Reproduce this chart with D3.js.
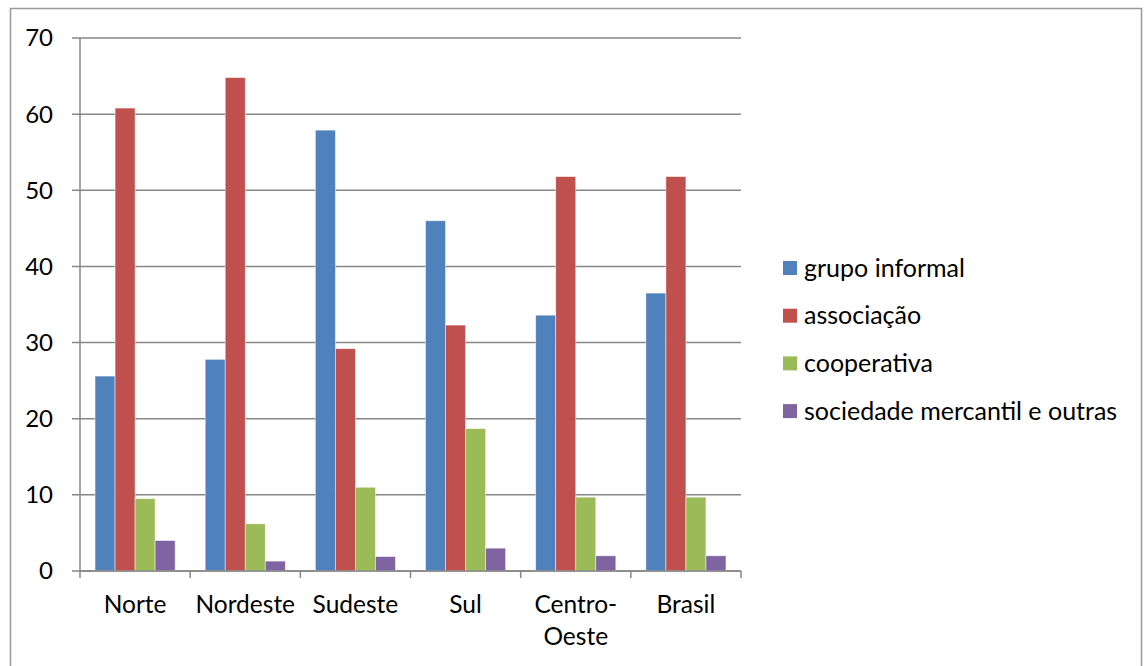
<!DOCTYPE html>
<html>
<head>
<meta charset="utf-8">
<script src="https://cdn.jsdelivr.net/npm/d3@7"></script>
<style>
  body { margin: 0; background: #fff; }
  text { font-family: Lato, "Open Sans", sans-serif; fill: #000; }
</style>
</head>
<body>
<div id="chart"></div>
<script>
// Data
const regions = ["Norte", "Nordeste", "Sudeste", "Sul", "Centro-Oeste", "Brasil"];
const regionLines = [["Norte"], ["Nordeste"], ["Sudeste"], ["Sul"], ["Centro-", "Oeste"], ["Brasil"]];
const seriesNames = ["grupo informal", "associação", "cooperativa", "sociedade mercantil e outras"];
const grupoInformal = [25.6, 27.8, 57.9, 46.0, 33.6, 36.5];
const associacao = [60.8, 64.8, 29.2, 32.3, 51.8, 51.8];
const cooperativa = [9.5, 6.2, 11.0, 18.7, 9.7, 9.7];
const sociedade = [4.0, 1.3, 1.9, 3.0, 2.0, 2.0];
const yTicks = [0, 10, 20, 30, 40, 50, 60, 70];
const colors = ["#4F81BD", "#C0504D", "#9BBB59", "#8064A2"];

const seriesValues = [grupoInformal, associacao, cooperativa, sociedade];

const width = 1146, height = 666;
const plot = { left: 80, right: 741, top: 38, bottom: 571 };

const svg = d3.select("#chart").append("svg")
  .attr("width", width)
  .attr("height", height);

// outer chart frame
svg.append("rect")
  .attr("x", 10.5).attr("y", 8.5)
  .attr("width", 1131).attr("height", 670)
  .attr("fill", "none")
  .attr("stroke", "#9a9a9a")
  .attr("stroke-width", 1.5);

const x = d3.scaleBand().domain(regions).range([plot.left, plot.right]).paddingInner(0).paddingOuter(0);
const xInner = d3.scaleBand().domain(seriesNames).range([0, x.bandwidth()]).paddingInner(0).paddingOuter(0.75);
const y = d3.scaleLinear().domain([0, 70]).range([plot.bottom, plot.top]);

// gridlines
svg.append("g")
  .selectAll("line")
  .data(yTicks)
  .join("line")
  .attr("x1", plot.left - 8)
  .attr("x2", plot.right)
  .attr("y1", d => y(d))
  .attr("y2", d => y(d))
  .attr("stroke", "#878787")
  .attr("stroke-width", 1.5);

// y axis line
svg.append("line")
  .attr("x1", plot.left).attr("x2", plot.left)
  .attr("y1", plot.top).attr("y2", plot.bottom + 1)
  .attr("stroke", "#878787").attr("stroke-width", 1.5);

// y tick labels
svg.append("g")
  .selectAll("text")
  .data(yTicks)
  .join("text")
  .attr("x", 53)
  .attr("y", d => y(d))
  .attr("dy", "0.35em")
  .attr("text-anchor", "end")
  .style("font-size", "24px")
  .text(d => d);

// bars
const groups = svg.append("g")
  .selectAll("g")
  .data(regions)
  .join("g")
  .attr("transform", d => `translate(${x(d)},0)`);

groups.selectAll("rect")
  .data((d, i) => seriesNames.map((s, j) => ({ s, j, v: seriesValues[j][i] })))
  .join("rect")
  .attr("x", d => xInner(d.s))
  .attr("width", xInner.bandwidth())
  .attr("y", d => y(d.v))
  .attr("height", d => y(0) - y(d.v))
  .attr("fill", d => colors[d.j])
  .attr("stroke", "rgba(255,255,255,0.6)")
  .attr("stroke-width", 0.8);

// x axis line and ticks
svg.append("line")
  .attr("x1", plot.left).attr("x2", plot.right)
  .attr("y1", plot.bottom).attr("y2", plot.bottom)
  .attr("stroke", "#878787").attr("stroke-width", 1.5);

const xTickPos = regions.map(r => x(r)).concat([plot.right]);
svg.append("g")
  .selectAll("line")
  .data(xTickPos)
  .join("line")
  .attr("x1", d => d).attr("x2", d => d)
  .attr("y1", plot.bottom).attr("y2", plot.bottom + 7)
  .attr("stroke", "#878787").attr("stroke-width", 1.5);

// x labels
svg.append("g")
  .selectAll("text")
  .data(regions)
  .join("text")
  .attr("x", d => x(d) + x.bandwidth() / 2)
  .attr("y", 613)
  .attr("text-anchor", "middle")
  .style("font-size", "24.5px")
  .each(function (d, i) {
    const t = d3.select(this);
    regionLines[i].forEach((line, k) => {
      t.append("tspan")
        .attr("x", x(d) + x.bandwidth() / 2)
        .attr("dy", k === 0 ? 0 : 32)
        .text(line);
    });
  });

// legend
const legend = svg.append("g")
  .selectAll("g")
  .data(seriesNames)
  .join("g")
  .attr("transform", (d, i) => `translate(783,${268 + i * 47.7})`);

legend.append("rect")
  .attr("x", 0).attr("y", -7)
  .attr("width", 14).attr("height", 14)
  .attr("fill", (d, i) => colors[i]);

legend.append("text")
  .attr("x", 21)
  .attr("y", 0)
  .attr("dy", "0.35em")
  .style("font-size", "25px")
  .text(d => d);
</script>
</body>
</html>
